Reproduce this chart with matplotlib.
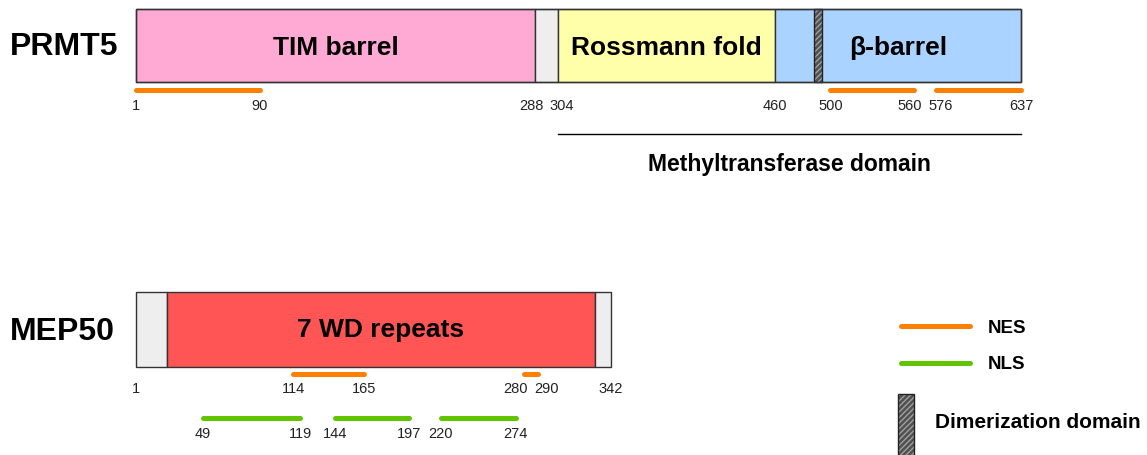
import matplotlib
matplotlib.use("Agg")
import matplotlib.pyplot as plt
from matplotlib.patches import Rectangle

plt.rcParams['font.family'] = ['Liberation Sans', 'DejaVu Sans']
plt.rcParams['hatch.linewidth'] = 1.0

# PRMT5 (1-637)
prmt5_len = 637
prmt5_domains = [(1, 288, '#FFAAD5', 'TIM barrel'),
                 (288, 304, '#EEEEEE', ''),
                 (304, 460, '#FFFFAA', 'Rossmann fold'),
                 (460, 637, '#AAD4FF', '')]
prmt5_dimer = (488, 494)
prmt5_nes = [(1, 90), (500, 560), (576, 637)]
prmt5_ticks = [1, 90, 288, 304, 460, 500, 560, 576, 637]
beta_barrel = (460, 637)
mtase_domain = (304, 637)

# MEP50 (1-342)
mep50_len = 342
mep50_domains = [(1, 23, '#EEEEEE', ''),
                 (23, 331, '#FF5555', '7 WD repeats'),
                 (331, 342, '#EEEEEE', '')]
mep50_nes = [(114, 165), (280, 290)]
mep50_nls = [(49, 119), (144, 197), (220, 274)]
mep50_ticks = [1, 114, 165, 280, 290, 342]
mep50_nls_ticks = [49, 119, 144, 197, 220, 274]

NES_COLOR = '#FF8000'
NLS_COLOR = '#62C400'
EDGE = '#333333'

W, H = 1147, 456
px_per_res = 885 / 636.0
x0 = 1 - 136 / px_per_res
x1 = x0 + W / px_per_res

fig = plt.figure(figsize=(W / 100, H / 100), dpi=100)
ax = fig.add_axes([0, 0, 1, 1])
ax.set_xlim(x0, x1)
ax.set_ylim(H, 0)
ax.axis('off')


def draw_bar(domains, top, height):
    for s, e, c, _ in domains:
        ax.add_patch(Rectangle((s, top), e - s, height, facecolor=c,
                               edgecolor=EDGE, lw=1))


def draw_dimer(ax_, s, e, top, height):
    ax_.add_patch(Rectangle((s, top), e - s, height, facecolor='#505050',
                            edgecolor='#a0a0a0', hatch='//////', lw=0))
    ax_.add_patch(Rectangle((s, top), e - s, height, fill=False,
                            edgecolor='#222222', lw=1))


def draw_segments(segs, y, color):
    for s, e in segs:
        ax.plot([s, e], [y, y], color=color, lw=3.6, solid_capstyle='round')


def draw_ticks(ticks, y, min_gap=31):
    # spread close labels apart so they do not overlap
    pos = [t for t in ticks]
    shifts = [0.0] * len(ticks)
    for i in range(len(ticks) - 1):
        d = (ticks[i + 1] - ticks[i]) * px_per_res
        if d < min_gap:
            sh = (min_gap - d) / 2 / px_per_res
            shifts[i] -= sh
            shifts[i + 1] += sh
    for t, sh in zip(pos, shifts):
        ax.text(t + sh, y, str(t), ha='center', va='baseline',
                fontsize=10.5, color='#222222')


# PRMT5
ptop, ph = 10, 73
draw_bar(prmt5_domains, ptop, ph)
draw_dimer(ax, prmt5_dimer[0], prmt5_dimer[1], ptop, ph)
ax.add_patch(Rectangle((1, ptop), prmt5_len - 1, ph, fill=False, edgecolor=EDGE, lw=1))
for s, e, c, name in prmt5_domains:
    if name:
        ax.text((s + e) / 2, 55, name, ha='center', va='baseline',
                fontsize=19, fontweight='bold')
ax.text(sum(beta_barrel) / 2, 55, 'β-barrel', ha='center', va='baseline',
        fontsize=19, fontweight='bold')
ax.text(x0 + 10 / px_per_res, 55, 'PRMT5', ha='left', va='baseline',
        fontsize=23, fontweight='bold')
draw_segments(prmt5_nes, 90.5, NES_COLOR)
draw_ticks(prmt5_ticks, 110)
ax.plot(mtase_domain, [135, 135], color='black', lw=1)
ax.text(sum(mtase_domain) / 2, 171, 'Methyltransferase domain', ha='center',
        va='baseline', fontsize=16.5, fontweight='bold')

# MEP50
mtop, mh = 293, 75
draw_bar(mep50_domains, mtop, mh)
for s, e, c, name in mep50_domains:
    if name:
        ax.text((s + e) / 2, 337, name, ha='center', va='baseline',
                fontsize=19, fontweight='bold')
ax.text(x0 + 10 / px_per_res, 340, 'MEP50', ha='left', va='baseline',
        fontsize=23, fontweight='bold')
draw_segments(mep50_nes, 375, NES_COLOR)
draw_ticks(mep50_ticks, 393)
draw_segments(mep50_nls, 419, NLS_COLOR)
draw_ticks(mep50_nls_ticks, 438)

# legend, in pixel units
lg = fig.add_axes([0, 0, 1, 1])
lg.set_xlim(0, W)
lg.set_ylim(H, 0)
lg.axis('off')
lg.plot([900.5, 969.5], [327, 327], color=NES_COLOR, lw=3.6, solid_capstyle='round')
lg.text(988, 333, 'NES', ha='left', va='baseline', fontsize=13.5, fontweight='bold')
lg.plot([900.5, 969.5], [364, 364], color=NLS_COLOR, lw=3.6, solid_capstyle='round')
lg.text(988, 369.5, 'NLS', ha='left', va='baseline', fontsize=13.5, fontweight='bold')
draw_dimer(lg, 898, 914, 395, 70)
lg.text(935, 428, 'Dimerization domain', ha='left', va='baseline',
        fontsize=15, fontweight='bold')

fig.savefig('out.png', dpi=100)
